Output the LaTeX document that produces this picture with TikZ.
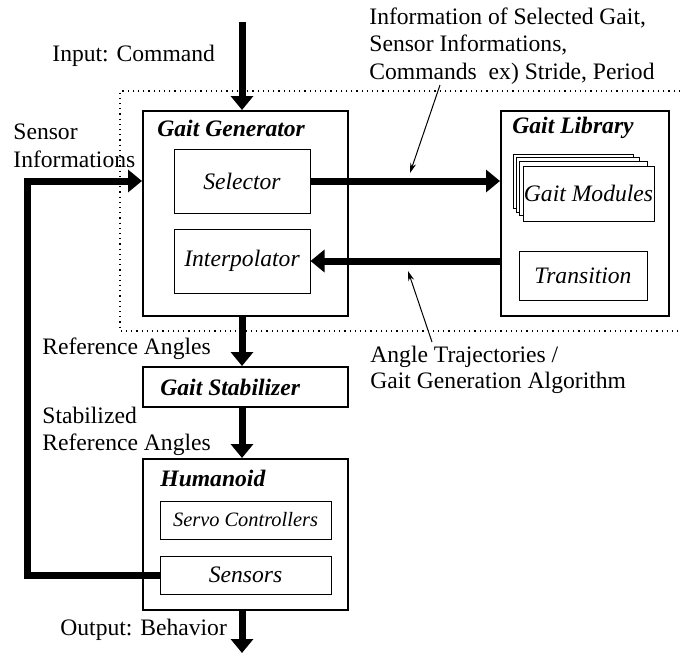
\documentclass[tikz,border=0pt]{standalone}
\usepackage{fontspec}
\setmainfont{Liberation Serif}
\usetikzlibrary{arrows.meta}
\begin{document}
\begin{tikzpicture}[x=0.5pt,y=-0.5pt,
  font=\fontsize{11.8}{13.8}\selectfont,
  outerbox/.style={draw, line width=1pt, inner sep=0pt},
  innerbox/.style={draw, line width=0.5pt, inner sep=0pt, font=\fontsize{11.8}{13.8}\selectfont\itshape},
  title/.style={inner sep=0pt, anchor=west, font=\fontsize{11.8}{13.8}\selectfont\bfseries\itshape},
  lbl/.style={inner sep=0pt, anchor=west, align=left},
  bigarrow/.style={line width=3.5pt, -{Triangle[length=7pt,width=11pt]}},
  bigline/.style={line width=3.5pt},
  pointer/.style={line width=0.5pt, -{Stealth[length=5pt,width=3pt]}},
  card/.style={draw, line width=0.4pt, fill=white}
]
\useasboundingbox (0,0) rectangle (680,654);

% dotted region (right side cut off)
\draw[dotted, line width=0.6pt] (680,91) -- (120,91) -- (120,331) -- (680,331);

% Gait Generator
\node[outerbox, minimum width=102.5pt, minimum height=102.5pt] (GG) at (245.5,213.5) {};
\node[title] (GGt) at (157,128) {Gait Generator};
\node[innerbox, minimum width=68pt, minimum height=32pt] (Sel) at (242,181) {Selector};
\node[innerbox, minimum width=68pt, minimum height=32pt] (Int) at (242,261) {Interpolator};

% Gait Library
\node[outerbox, minimum width=84pt, minimum height=102.5pt] (GL) at (585,213.5) {};
\node[title] (GLt) at (512,128) {Gait Library};
\draw[card] (513,154) rectangle (633,208);
\draw[card] (516,157) rectangle (639,212);
\draw[card] (519,161) rectangle (647,215);
\node[innerbox, line width=0.4pt, fill=white, minimum width=65.5pt, minimum height=27.5pt] (GM) at (588.5,193.5) {Gait Modules};
\node[innerbox, minimum width=64pt, minimum height=24.5pt] (Tr) at (583,275.5) {Transition};

% Gait Stabilizer
\node[outerbox, minimum width=102.5pt, minimum height=20pt] (GS) at (245.5,387) {};
\node[title] (GSt) at (160,387) {Gait Stabilizer};

% Humanoid
\node[outerbox, minimum width=102.5pt, minimum height=75.5pt] (HU) at (245.5,534.5) {};
\node[title] (HUt) at (160,478) {Humanoid};
\node[innerbox, minimum width=85.5pt, minimum height=19pt, font=\fontsize{10.2}{12}\selectfont\itshape] (SC) at (245.5,520) {Servo Controllers};
\node[innerbox, minimum width=85.5pt, minimum height=19pt] (SE) at (245.5,575) {Sensors};

% labels
\node[lbl] (Lin) at (52,56) {Input: Command};
\node[lbl] (Lsens) at (13,146) {Sensor\\Informations};
\node[lbl] (Linfo) at (369,46) {Information of Selected Gait,\\Sensor Informations,\\Commands\ \ ex) Stride, Period};
\node[lbl] (Lref) at (42,349) {Reference Angles};
\node[lbl] (Lstab) at (42,431.5) {Stabilized\\Reference Angles};
\node[lbl, font=\fontsize{11.8}{13}\selectfont] (Lang) at (370,370) {Angle Trajectories /\\Gait Generation Algorithm};
\node[lbl] (Lout) at (60,630) {Output: Behavior};

% main flow
\coordinate (cx) at (242,0);
\coordinate (inTop) at (242,22);
\coordinate (outEnd) at (242,653);
\draw[bigarrow] (inTop) -- (inTop |- GG.north);
\draw[bigarrow] (GG.south -| cx) -- (GS.north -| cx);
\draw[bigarrow] (GS.south -| cx) -- (HU.north -| cx);
\draw[bigarrow] (HU.south -| cx) -- (outEnd);

\draw[bigarrow] (Sel.east) -- (GL.west |- Sel.east);
\draw[bigarrow] (GL.west |- Int.east) -- (Int.east);

% feedback
\coordinate (fbx) at (27,0);
\draw[bigarrow] (SE.west) -- (SE.west -| fbx) -- (fbx |- Sel.east) -- (GG.west |- Sel.east);

% pointers
\coordinate (p1a) at (440,85);
\coordinate (p1b) at (410,173);
\coordinate (p2a) at (432,342);
\coordinate (p2b) at (408,271);
\draw[pointer] (p1a) -- (p1b);
\draw[pointer] (p2a) -- (p2b);
\end{tikzpicture}
\end{document}
